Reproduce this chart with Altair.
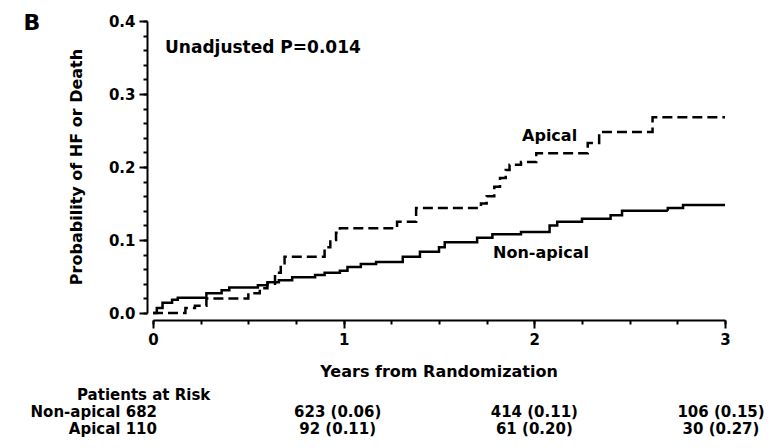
import altair as alt
import pandas as pd

# ---- data ----
years_nonapical = [0, 0.02, 0.05, 0.10, 0.13, 0.28, 0.36, 0.40, 0.55, 0.60, 0.66, 0.73, 0.85, 0.90,
                   0.98, 1.02, 1.09, 1.17, 1.31, 1.40, 1.50, 1.53, 1.70, 1.78, 1.93, 2.08, 2.12,
                   2.25, 2.40, 2.46, 2.70, 2.78, 3.00]
prob_nonapical = [0, 0.007, 0.014, 0.018, 0.021, 0.027, 0.031, 0.035, 0.038, 0.042, 0.045, 0.049,
                  0.052, 0.055, 0.058, 0.063, 0.067, 0.070, 0.077, 0.084, 0.090, 0.097, 0.103,
                  0.108, 0.111, 0.120, 0.125, 0.129, 0.134, 0.140, 0.144, 0.148, 0.148]

years_apical = [0, 0.17, 0.22, 0.28, 0.50, 0.56, 0.60, 0.64, 0.67, 0.69, 0.90, 0.93, 0.96, 0.98,
                1.28, 1.38, 1.72, 1.75, 1.79, 1.82, 1.85, 1.87, 1.93, 2.01, 2.28, 2.34, 2.62, 3.00]
prob_apical = [0, 0.007, 0.010, 0.020, 0.027, 0.034, 0.040, 0.055, 0.068, 0.077, 0.090, 0.100,
               0.110, 0.116, 0.125, 0.144, 0.150, 0.160, 0.173, 0.185, 0.196, 0.203, 0.207,
               0.219, 0.233, 0.248, 0.268, 0.268]

groups = ["Non-apical", "Apical"]
n_at_start = [682, 110]
risk_years = [1, 2, 3]
risk_nonapical = [623, 414, 106]
cum_nonapical = [0.06, 0.11, 0.15]
risk_apical = [92, 61, 30]
cum_apical = [0.11, 0.20, 0.27]

curve_labels = ["Apical", "Non-apical"]
curve_label_year = [2.08, 2.035]
curve_label_prob = [0.242, 0.082]

x_major_ticks = [0, 1, 2, 3]
x_minor_ticks = [i * 0.25 for i in range(13)]
y_major_ticks = [0.0, 0.1, 0.2, 0.3, 0.4]
y_minor_ticks = [round(i * 0.02, 2) for i in range(21)]

FONT = "DejaVu Sans"
W, H = 572, 292

curves = pd.concat([
    pd.DataFrame({"year": years_nonapical, "prob": prob_nonapical, "group": "Non-apical"}),
    pd.DataFrame({"year": years_apical, "prob": prob_apical, "group": "Apical"}),
])

xscale = alt.Scale(domain=[0, 3], nice=False, zero=True)
yscale = alt.Scale(domain=[0, 0.4], nice=False, zero=True)

common_axis = dict(
    title="", grid=False, labelFont=FONT, labelFontSize=15, labelFontWeight="bold",
    labelColor="black", labelOverlap=False, labelFlush=False,
    domainColor="black", domainWidth=2, tickColor="black", tickWidth=2,
)

x_axis_major = alt.Axis(orient="bottom", values=x_major_ticks, offset=7, tickSize=8,
                        labelPadding=4, format="d", **common_axis)
y_axis_major = alt.Axis(orient="left", values=y_major_ticks, offset=6, tickSize=8,
                        labelPadding=4, format=".1f", **common_axis)
x_axis_minor = alt.Axis(orient="bottom", values=x_minor_ticks, offset=7, tickSize=4,
                        labels=False, domain=False, title="", grid=False,
                        tickColor="black", tickWidth=2)
y_axis_minor = alt.Axis(orient="left", values=y_minor_ticks, offset=6, tickSize=4,
                        labels=False, domain=False, title="", grid=False,
                        tickColor="black", tickWidth=2)

lines = alt.Chart(curves).mark_line(
    interpolate="step-after", color="black", strokeWidth=2.5
).encode(
    x=alt.X("year:Q", scale=xscale, axis=x_axis_major),
    y=alt.Y("prob:Q", scale=yscale, axis=y_axis_major),
    strokeDash=alt.StrokeDash("group:N", scale=alt.Scale(domain=groups, range=[[1, 0], [10, 5]]),
                              legend=None),
)

minor = alt.Chart(curves).mark_point(opacity=0).encode(
    x=alt.X("year:Q", scale=xscale, axis=x_axis_minor),
    y=alt.Y("prob:Q", scale=yscale, axis=y_axis_minor),
)

txt = dict(font=FONT, fontWeight="bold", fontSize=16, color="black")
tbl = dict(txt, fontSize=15)

labels_df = pd.DataFrame({"label": curve_labels, "year": curve_label_year, "prob": curve_label_prob})
curve_text = alt.Chart(labels_df).mark_text(align="center", baseline="middle", **txt).encode(
    x=alt.X("year:Q", axis=None), y=alt.Y("prob:Q", axis=None), text="label:N"
)

pval = alt.Chart(pd.DataFrame({"t": ["Unadjusted P=0.014"], "year": [0.063], "prob": [0.363]})).mark_text(
    align="left", baseline="middle", **dict(txt, fontSize=17)
).encode(x=alt.X("year:Q", axis=None), y=alt.Y("prob:Q", axis=None), text="t:N")

ROW_Y = [391, 408]
COL_DX = [-6, 0, -4]

risk_layers = []
for counts, cums, ypix in [(risk_nonapical, cum_nonapical, ROW_Y[0]), (risk_apical, cum_apical, ROW_Y[1])]:
    for yr, n, p, dx in zip(risk_years, counts, cums, COL_DX):
        df = pd.DataFrame({"year": [yr], "t": [f"{n} ({p:.2f})"]})
        risk_layers.append(
            alt.Chart(df).mark_text(align="center", baseline="middle", dx=dx, **tbl).encode(
                x=alt.X("year:Q", axis=None), y=alt.value(ypix), text="t:N"
            )
        )

def fixed_text(s, x, y, base=txt, **kw):
    opts = dict(base)
    opts.update(kw)
    return alt.Chart(pd.DataFrame({"t": [s]})).mark_text(**opts).encode(
        x=alt.value(x), y=alt.value(y), text="t:N"
    )

row_na = fixed_text(f"{groups[0]} {n_at_start[0]}", 4, ROW_Y[0], base=tbl, align="right", baseline="middle")
row_ap = fixed_text(f"{groups[1]} {n_at_start[1]}", 4, ROW_Y[1], base=tbl, align="right", baseline="middle")
risk_title = fixed_text("Patients at Risk", -76, 374, base=tbl, align="left", baseline="middle")
x_title = fixed_text("Years from Randomization", W / 2, 351, align="center", baseline="middle")
y_title = fixed_text("Probability of HF or Death", -76, H / 2, align="center", baseline="middle", angle=270)
panel = fixed_text("B", -121, 2, align="center", baseline="middle", fontSize=22)

chart = alt.layer(
    lines, minor, curve_text, pval, *risk_layers, row_na, row_ap, risk_title, x_title, y_title, panel
).resolve_axis(x="independent", y="independent").properties(
    width=W, height=H,
    autosize=alt.AutoSizeParams(type="none"),
    padding={"left": 145, "top": 13, "right": 42, "bottom": 127},
    background="white",
).configure_view(stroke=None)

chart.save("out.html", embed_options={"renderer": "svg", "actions": False})
